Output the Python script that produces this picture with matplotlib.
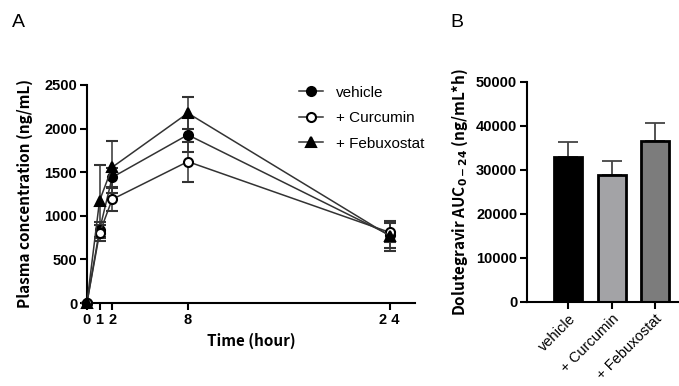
import numpy as np
import matplotlib
matplotlib.use("Agg")
from matplotlib import pyplot as plt
from matplotlib.lines import Line2D

# time course (A)
time = [0, 1, 2, 8, 24]
vehicle = [0, 836, 1440, 1928, 780]
vehicle_err = [0, 90, 110, 200, 150]
curcumin = [0, 800, 1188, 1621, 810]
curcumin_err = [0, 90, 134, 230, 110]
febuxostat = [0, 1172, 1556, 2177, 770]
febuxostat_err = [0, 410, 300, 184, 170]

# AUC (B)
groups = ["vehicle", "+ Curcumin", "+ Febuxostat"]
auc = [32900, 28900, 36500]
auc_err = [3500, 3000, 4200]
bar_colors = ["#000000", "#a3a3a6", "#7c7c7c"]

plt.rcParams['font.family'] = ['Liberation Sans', 'DejaVu Sans']
plt.rcParams['font.weight'] = 'bold'
lab_font = dict(family=['Noto Sans CJK JP', 'DejaVu Sans'], fontsize=11, fontweight='bold')

fig = plt.figure(figsize=(6.79, 3.86), dpi=100)

# ---- panel A
ax = fig.add_axes([0.128, 0.215, 0.483, 0.565])
series = [(vehicle, vehicle_err, 'o', 'black', 'vehicle'),
          (curcumin, curcumin_err, 'o', 'white', '+ Curcumin'),
          (febuxostat, febuxostat_err, '^', 'black', '+ Febuxostat')]
handles = []
for vals, err, mk, fc, lab in series:
    ax.errorbar(time, vals, yerr=err, color='#333333', lw=1.1, marker=mk, ms=6.5,
                mfc=fc, mec='black', mew=1.5, capsize=4, elinewidth=1.1,
                capthick=1.1, clip_on=False, zorder=3)
    handles.append(Line2D([], [], color='#333333', lw=1.1, marker=mk, ms=6.5,
                          mfc=fc, mec='black', mew=1.5, label=lab))
ax.set_xlim(0, 26)
ax.set_ylim(0, 2500)
ax.set_xticks([0, 1, 2, 8, 24])
ax.set_xticklabels(['0', '1', '2', '8', '2 4'])
ax.set_yticks([0, 500, 1000, 1500, 2000, 2500])
for s in ['top', 'right']:
    ax.spines[s].set_visible(False)
for s in ['left', 'bottom']:
    ax.spines[s].set_linewidth(1.5)
ax.tick_params(width=1.5, length=5, labelsize=10.5, pad=2)
ax.set_xlabel('Time (hour)', **lab_font)
ax.set_ylabel('Plasma concentration (ng/mL)', labelpad=8, **lab_font)
leg = ax.legend(handles=handles, loc='upper right', bbox_to_anchor=(1.07, 1.06),
                frameon=False, handlelength=1.6, fontsize=11, labelspacing=0.75,
                handletextpad=0.8)
for t in leg.get_texts():
    t.set_fontweight('normal')

# ---- panel B
bx = fig.add_axes([0.776, 0.218, 0.224, 0.57])
xpos = np.arange(len(groups))
bx.bar(xpos, auc, width=0.65, color=bar_colors, edgecolor='black', lw=2, zorder=2)
bx.errorbar(xpos, auc, yerr=[np.zeros(3), auc_err], fmt='none', ecolor='#444444',
            elinewidth=1.3, capsize=7, capthick=1.3, zorder=1)
bx.set_xlim(-0.95, 2.55)
bx.set_ylim(0, 50000)
bx.set_yticks([0, 10000, 20000, 30000, 40000, 50000])
bx.set_xticks(xpos)
bx.set_xticklabels(groups, rotation=45, ha='right', rotation_mode='anchor',
                   fontweight='normal', fontsize=10.5)
for s in ['top', 'right']:
    bx.spines[s].set_visible(False)
for s in ['left', 'bottom']:
    bx.spines[s].set_linewidth(1.5)
bx.tick_params(width=1.5, length=5, labelsize=10.5, pad=2)
bx.set_ylabel('Dolutegravir AUC$_{0-24}$ (ng/mL*h)', **lab_font)

fig.text(0.018, 0.93, 'A', fontsize=14, fontweight='normal')
fig.text(0.663, 0.93, 'B', fontsize=14, fontweight='normal')

fig.savefig('out.png', dpi=100)
